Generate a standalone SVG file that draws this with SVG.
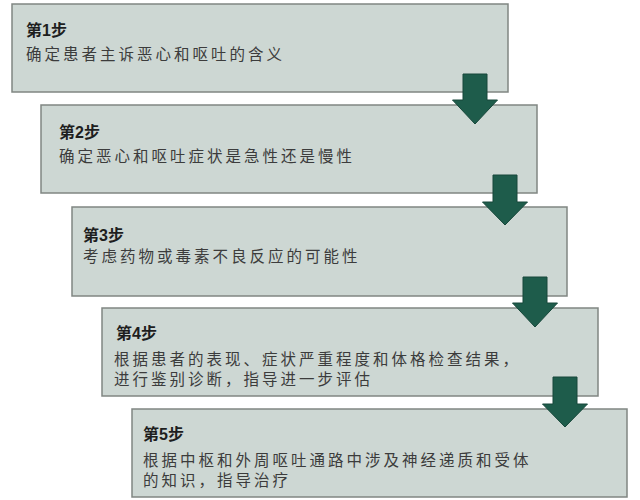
<svg xmlns="http://www.w3.org/2000/svg" width="640" height="500" viewBox="0 0 640 500">
<style>
.box{fill:#CDD7D3;stroke:#808682;stroke-width:1.5}
.t{font-family:"Liberation Sans","Noto Sans CJK SC",sans-serif;font-size:16px;font-weight:bold;fill:#1e1e1e}
.b{font-family:"Noto Sans CJK SC",sans-serif;font-size:15.5px;fill:#3c3c3c;letter-spacing:3px}
.arr{fill:#1E5C4B;stroke:#17473A;stroke-width:1}
</style>
<rect width="640" height="500" fill="#ffffff"/>
<g id="step1">
<rect class="box" x="12" y="4" width="496" height="88"/>
<text class="t" x="26" y="36">第1步</text>
<text class="b" x="26" y="60">确定患者主诉恶心和呕吐的含义</text>
</g>
<g id="step2">
<rect class="box" x="41" y="105" width="496" height="88"/>
<text class="t" x="59" y="138">第2步</text>
<text class="b" x="59" y="162">确定恶心和呕吐症状是急性还是慢性</text>
</g>
<g id="step3">
<rect class="box" x="72" y="207" width="495" height="89"/>
<text class="t" x="83" y="241">第3步</text>
<text class="b" x="83" y="262">考虑药物或毒素不良反应的可能性</text>
</g>
<g id="step4">
<rect class="box" x="102" y="308" width="496" height="88"/>
<text class="t" x="116" y="339">第4步</text>
<text class="b" x="114" y="365">根据患者的表现、症状严重程度和体格检查结果，</text>
<text class="b" x="114" y="385">进行鉴别诊断，指导进一步评估</text>
</g>
<g id="step5">
<rect class="box" x="132" y="409" width="495" height="88"/>
<text class="t" x="143" y="440">第5步</text>
<text class="b" x="143" y="466">根据中枢和外周呕吐通路中涉及神经递质和受体</text>
<text class="b" x="143" y="486">的知识，指导治疗</text>
</g>
<g id="connectors">
<path class="arr" d="M463 74 H487 V100 H497.5 L475 124 L452.5 100 H463 Z"/>
<path class="arr" d="M493 175 H517 V202 H527.5 L505 225 L482.5 202 H493 Z"/>
<path class="arr" d="M523 277 H547 V303 H557.5 L535 327 L512.5 303 H523 Z"/>
<path class="arr" d="M553 377 H577 V404 H587.5 L565 427 L542.5 404 H553 Z"/>
</g>
</svg>
